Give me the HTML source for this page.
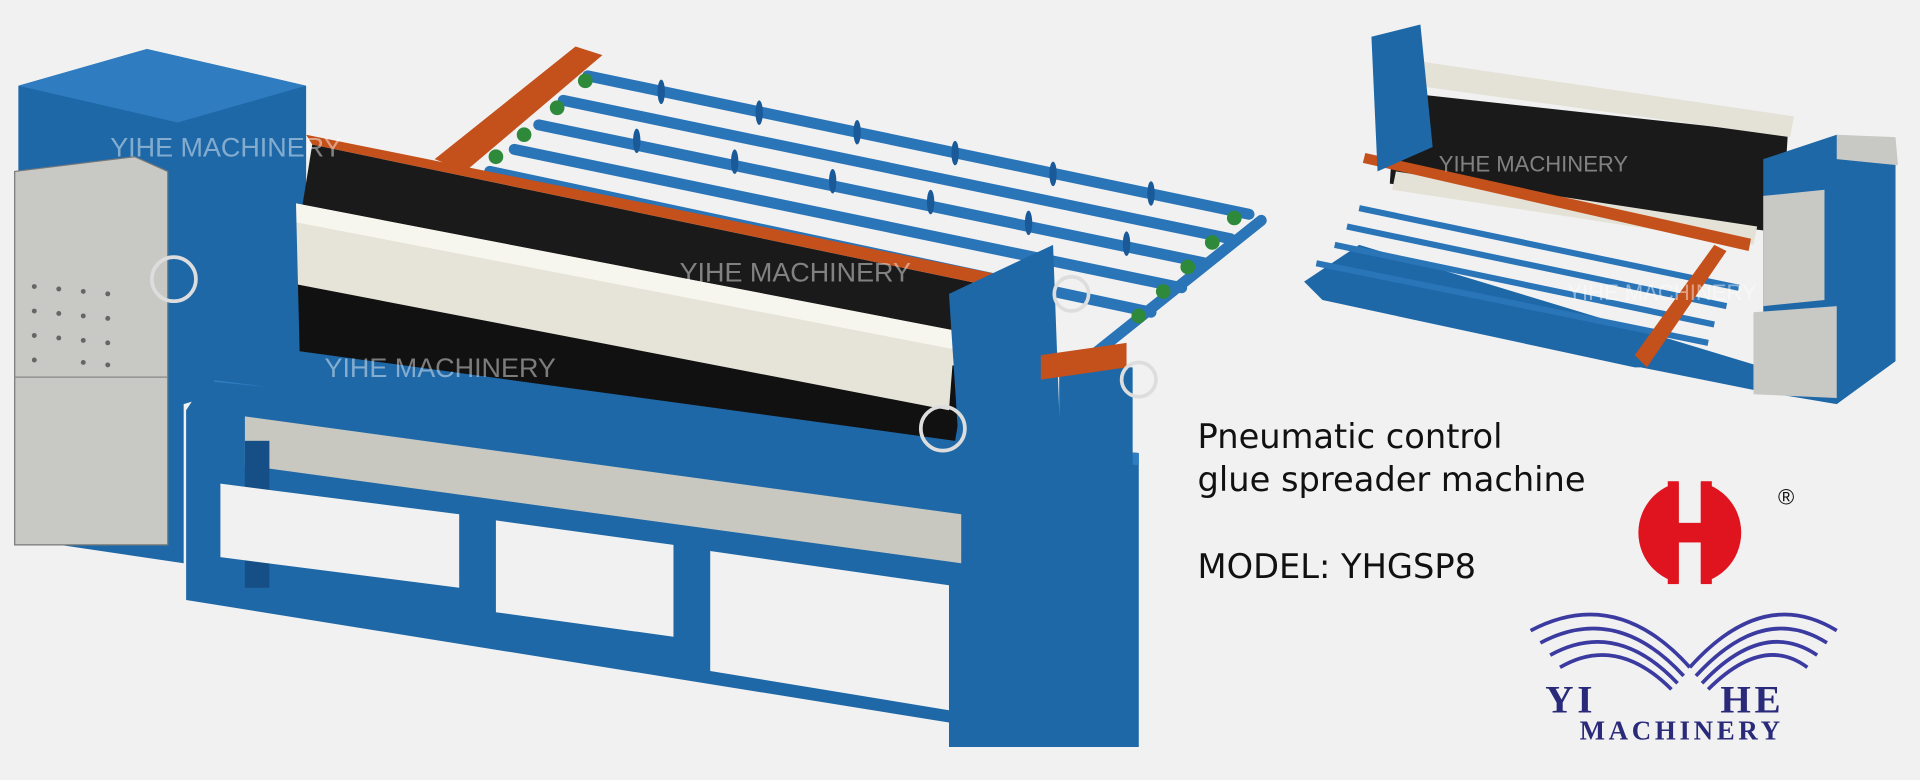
<!DOCTYPE html>
<html><head><meta charset="utf-8"><style>
html,body{margin:0;padding:0;background:#f1f1f1;}
svg{display:block;}
</style></head><body>
<svg width="1920" height="780" viewBox="0 0 1568 637" xmlns="http://www.w3.org/2000/svg">
<rect width="1568" height="637" fill="#f1f1f1"/>
<!-- LEFT MACHINE -->
<polygon points="15,70 120,40 250,70 250,300 150,330 150,460 15,440" fill="#1e68a8"/>
<polygon points="15,70 120,40 250,70 145,100" fill="#2f7cc0"/>
<polygon points="12,140 110,128 137,140 137,445 12,445" fill="#c8c8c4" stroke="#777" stroke-width="1"/>
<line x1="12" y1="308" x2="137" y2="308" stroke="#888"/>
<g fill="#666">
<circle cx="28" cy="234" r="2"/><circle cx="48" cy="236" r="2"/><circle cx="68" cy="238" r="2"/><circle cx="88" cy="240" r="2"/>
<circle cx="28" cy="254" r="2"/><circle cx="48" cy="256" r="2"/><circle cx="68" cy="258" r="2"/><circle cx="88" cy="260" r="2"/>
<circle cx="28" cy="274" r="2"/><circle cx="48" cy="276" r="2"/><circle cx="68" cy="278" r="2"/><circle cx="88" cy="280" r="2"/>
<circle cx="28" cy="294" r="2"/><circle cx="68" cy="296" r="2"/><circle cx="88" cy="298" r="2"/>
</g>
<polygon points="355,130 470,38 492,45 380,140" fill="#c4501c"/>
<g stroke="#2a74b8" stroke-width="9" stroke-linecap="round">
<line x1="480" y1="62" x2="1020" y2="175"/>
<line x1="460" y1="82" x2="1005" y2="195"/>
<line x1="440" y1="102" x2="985" y2="215"/>
<line x1="420" y1="122" x2="965" y2="235"/>
<line x1="400" y1="140" x2="940" y2="255"/>
<line x1="1030" y1="180" x2="880" y2="300"/>
</g>
<g fill="#1a5a98">
<ellipse cx="540" cy="75" rx="3" ry="10"/><ellipse cx="620" cy="92" rx="3" ry="10"/><ellipse cx="700" cy="108" rx="3" ry="10"/><ellipse cx="780" cy="125" rx="3" ry="10"/><ellipse cx="860" cy="142" rx="3" ry="10"/><ellipse cx="940" cy="158" rx="3" ry="10"/>
<ellipse cx="520" cy="115" rx="3" ry="10"/><ellipse cx="600" cy="132" rx="3" ry="10"/><ellipse cx="680" cy="148" rx="3" ry="10"/><ellipse cx="760" cy="165" rx="3" ry="10"/><ellipse cx="840" cy="182" rx="3" ry="10"/><ellipse cx="920" cy="199" rx="3" ry="10"/>
</g>
<g fill="#2e8a3a"><circle cx="1008" cy="178" r="6"/><circle cx="990" cy="198" r="6"/><circle cx="970" cy="218" r="6"/><circle cx="950" cy="238" r="6"/><circle cx="930" cy="258" r="6"/><circle cx="478" cy="66" r="6"/><circle cx="455" cy="88" r="6"/><circle cx="428" cy="110" r="6"/><circle cx="405" cy="128" r="6"/></g>
<polygon points="255,118 830,238 820,300 245,180" fill="#1a1a1a"/>
<polygon points="250,110 835,228 830,238 255,118" fill="#c4501c"/>
<polygon points="152,335 175,300 930,370 930,610 775,610 775,590 152,490" fill="#1e68a8"/>
<polygon points="175,300 930,370 930,380 175,312" fill="#2f7cc0"/>
<polygon points="200,340 785,420 785,460 200,380" fill="#c8c8c0"/>
<rect x="200" y="360" width="20" height="120" fill="#164f85"/>
<polygon points="180,395 375,420 375,480 180,455" fill="#f1f1f1"/>
<polygon points="405,425 550,445 550,520 405,500" fill="#f1f1f1"/>
<polygon points="580,450 775,478 775,580 580,548" fill="#f1f1f1"/>
<polygon points="175,260 845,345 840,395 172,310" fill="#1e68a8"/>
<polygon points="200,220 790,300 780,360 195,280" fill="#111"/>
<polygon points="210,160 780,270 775,335 205,225" fill="#e6e4d8"/>
<polygon points="210,160 780,270 778,285 208,175" fill="#f7f6ee"/>
<ellipse cx="207" cy="192" rx="10" ry="33" fill="#d4d2c4"/>
<polygon points="150,110 240,95 245,300 160,310" fill="#1e68a8"/>
<polygon points="775,240 860,200 870,470 790,470" fill="#1e68a8"/>
<rect x="865" y="300" width="60" height="100" fill="#1e68a8"/>
<polygon points="850,290 920,280 920,300 850,310" fill="#c4501c"/>
<g fill="none" stroke="#ddd" stroke-width="3">
<circle cx="142" cy="228" r="18"/><circle cx="770" cy="350" r="18"/><circle cx="875" cy="240" r="14"/><circle cx="930" cy="310" r="14"/>
</g>
<text x="90" y="128" font-family="Liberation Sans,sans-serif" font-size="22" fill="#fff" opacity="0.45">YIHE MACHINERY</text>
<text x="555" y="230" font-family="Liberation Sans,sans-serif" font-size="22" fill="#fff" opacity="0.45">YIHE MACHINERY</text>
<text x="265" y="308" font-family="Liberation Sans,sans-serif" font-size="22" fill="#fff" opacity="0.45">YIHE MACHINERY</text>

<!-- RIGHT SMALL MACHINE -->
<polygon points="1065,230 1110,200 1440,300 1440,320 1340,300 1335,300 1080,245" fill="#1e68a8"/>
<g stroke="#2a74b8" stroke-width="5">
<line x1="1075" y1="215" x2="1395" y2="280"/><line x1="1090" y1="200" x2="1400" y2="265"/><line x1="1100" y1="185" x2="1410" y2="250"/><line x1="1110" y1="170" x2="1420" y2="235"/>
</g>
<polygon points="1140,75 1460,110 1455,190 1135,150" fill="#1a1a1a"/>
<polygon points="1145,48 1465,95 1462,112 1142,68" fill="#e4e2d6"/>
<polygon points="1140,140 1435,185 1432,200 1137,155" fill="#e4e2d6"/>
<polygon points="1115,125 1430,195 1428,205 1113,133" fill="#c4501c"/>
<polygon points="1335,290 1400,200 1410,205 1345,300" fill="#c4501c"/>
<polygon points="1120,30 1160,20 1170,120 1125,140" fill="#1e68a8"/>
<polygon points="1440,130 1500,110 1548,125 1548,295 1500,330 1440,320" fill="#1e68a8"/>
<polygon points="1440,160 1490,155 1490,245 1440,250" fill="#c8c8c4"/>
<polygon points="1432,255 1500,250 1500,325 1432,322" fill="#c8c8c4"/>
<polygon points="1500,110 1548,112 1550,135 1500,130" fill="#c8c8c4"/>
<text x="1175" y="140" font-family="Liberation Sans,sans-serif" font-size="18" fill="#fff" opacity="0.45">YIHE MACHINERY</text>
<text x="1280" y="245" font-family="Liberation Sans,sans-serif" font-size="18" fill="#fff" opacity="0.45">YIHE MACHINERY</text>

<g font-family="'DejaVu Sans','Liberation Sans',sans-serif" font-size="27.5" fill="#111">
<text x="978" y="366">Pneumatic control</text>
<text x="978" y="401">glue spreader machine</text>
<text x="978" y="472">MODEL: YHGSP8</text>
</g>
<circle cx="1380" cy="435" r="42" fill="#e0141e"/>
<rect x="1371" y="388" width="18" height="94" fill="#f1f1f1"/>
<rect x="1356" y="427" width="48" height="16" fill="#e0141e"/>
<rect x="1362" y="393" width="9" height="84" fill="#e0141e"/>
<rect x="1389" y="393" width="9" height="84" fill="#e0141e"/>
<text x="1452" y="412" font-family="Liberation Sans,sans-serif" font-size="18" fill="#111">®</text>
<g fill="none" stroke="#3a3aa0" stroke-width="3">
<path d="M1250,515 Q1320,478 1380,545"/><path d="M1258,525 Q1320,492 1375,552"/><path d="M1266,535 Q1320,505 1370,558"/><path d="M1274,545 Q1320,518 1365,563"/>
<path d="M1500,515 Q1440,478 1380,545"/><path d="M1492,525 Q1440,492 1385,552"/><path d="M1484,535 Q1440,505 1390,558"/><path d="M1476,545 Q1440,518 1395,563"/>
</g>
<g font-family="'Liberation Serif',serif" fill="#2a2a7a" font-weight="bold">
<text x="1262" y="582" font-size="32" letter-spacing="3">YI</text>
<text x="1405" y="582" font-size="32" letter-spacing="3">HE</text>
<text x="1290" y="604" font-size="22" letter-spacing="3">MACHINERY</text>
</g>
</svg>
</body></html>
